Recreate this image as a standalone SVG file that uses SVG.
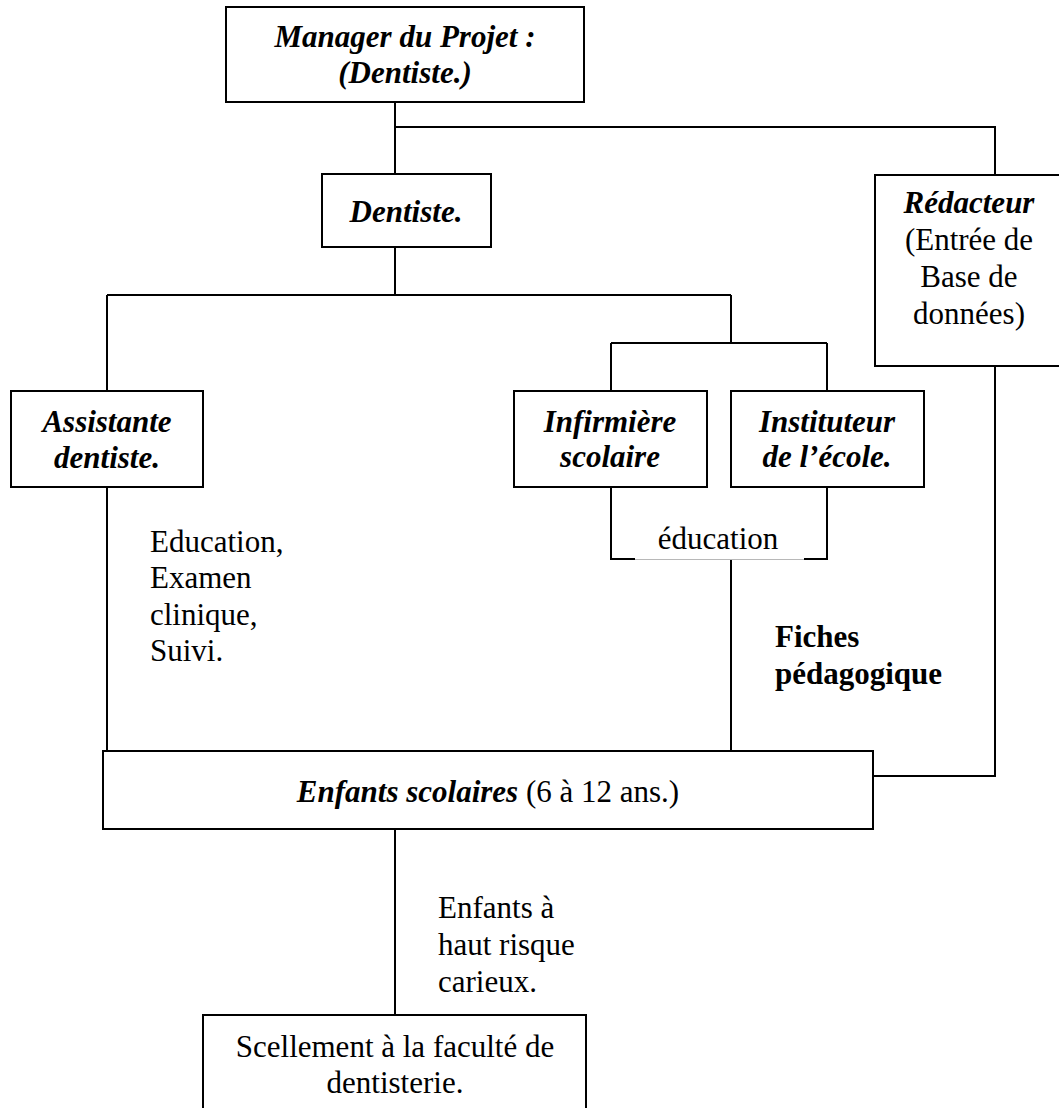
<svg xmlns="http://www.w3.org/2000/svg" width="1059" height="1108" viewBox="0 0 1059 1108">
  <style>
    .box { fill: #ffffff; stroke: #000000; stroke-width: 2; }
    .wire { fill: none; stroke: #000000; stroke-width: 2; }
    .txt { font-family: "Liberation Serif", "Times New Roman", serif; font-size: 31px; fill: #000000; }
    .bi { font-weight: bold; font-style: italic; }
    .b { font-weight: bold; }
    .mid { text-anchor: middle; }
  </style>
  <rect width="1059" height="1108" fill="#ffffff"/>

  <!-- connectors -->
  <g id="connectors">
    <path class="wire" d="M395,102 V174 M395,127 H995 V175"/>
    <path class="wire" d="M395,247 V295 M107,295 H731 M107,295 V391 M731,295 V343 M611,343 H827 M611,343 V391 M827,343 V391"/>
    <path class="wire" d="M107,487 V751"/>
    <path class="wire" d="M611,487 V559 H635 M827,487 V559 H804"/>
    <path fill="none" stroke="#b8b8b8" stroke-width="1" d="M635,559.5 H804"/>
    <path class="wire" d="M731,560 V751"/>
    <path class="wire" d="M995,366 V776 H873"/>
    <path class="wire" d="M395,829 V1015"/>
  </g>

  <!-- edge labels -->
  <g id="labels" class="txt">
    <text class="mid" x="718" y="549">éducation</text>
    <text x="150" y="552">Education,</text>
    <text x="150" y="588">Examen</text>
    <text x="150" y="625">clinique,</text>
    <text x="150" y="661">Suivi.</text>
    <text class="b" x="775" y="647">Fiches</text>
    <text class="b" x="775" y="684">pédagogique</text>
    <text x="438" y="918">Enfants à</text>
    <text x="438" y="955">haut risque</text>
    <text x="438" y="992">carieux.</text>
  </g>

  <!-- nodes -->
  <g id="manager">
    <rect class="box" x="226" y="7" width="358" height="95"/>
    <text class="txt bi mid" x="405" y="47">Manager du Projet :</text>
    <text class="txt bi mid" x="405" y="83">(Dentiste.)</text>
  </g>
  <g id="dentiste">
    <rect class="box" x="322" y="174" width="169" height="73"/>
    <text class="txt bi mid" x="406" y="222">Dentiste.</text>
  </g>
  <g id="redacteur">
    <rect class="box" x="875" y="175" width="195" height="191"/>
    <text class="txt bi mid" x="969" y="213" font-size="32">Rédacteur</text>
    <text class="txt mid" x="969" y="250" font-size="32">(Entrée de</text>
    <text class="txt mid" x="969" y="287" font-size="32">Base de</text>
    <text class="txt mid" x="969" y="324" font-size="32">données)</text>
  </g>
  <g id="assistante">
    <rect class="box" x="11" y="391" width="192" height="96"/>
    <text class="txt bi mid" x="107" y="432">Assistante</text>
    <text class="txt bi mid" x="107" y="468">dentiste.</text>
  </g>
  <g id="infirmiere">
    <rect class="box" x="514" y="391" width="193" height="96"/>
    <text class="txt bi mid" x="610" y="432">Infirmière</text>
    <text class="txt bi mid" x="610" y="467">scolaire</text>
  </g>
  <g id="instituteur">
    <rect class="box" x="731" y="391" width="193" height="96"/>
    <text class="txt bi mid" x="827" y="432">Instituteur</text>
    <text class="txt bi mid" x="827" y="467">de l’école.</text>
  </g>
  <g id="enfants">
    <rect class="box" x="103" y="751" width="770" height="78"/>
    <text class="txt mid" x="488" y="802"><tspan class="bi">Enfants scolaires</tspan> (6 à 12 ans.)</text>
  </g>
  <g id="scellement">
    <rect class="box" x="203" y="1015" width="383" height="110"/>
    <text class="txt mid" x="395" y="1057">Scellement à la faculté de</text>
    <text class="txt mid" x="395" y="1093">dentisterie.</text>
  </g>
</svg>
